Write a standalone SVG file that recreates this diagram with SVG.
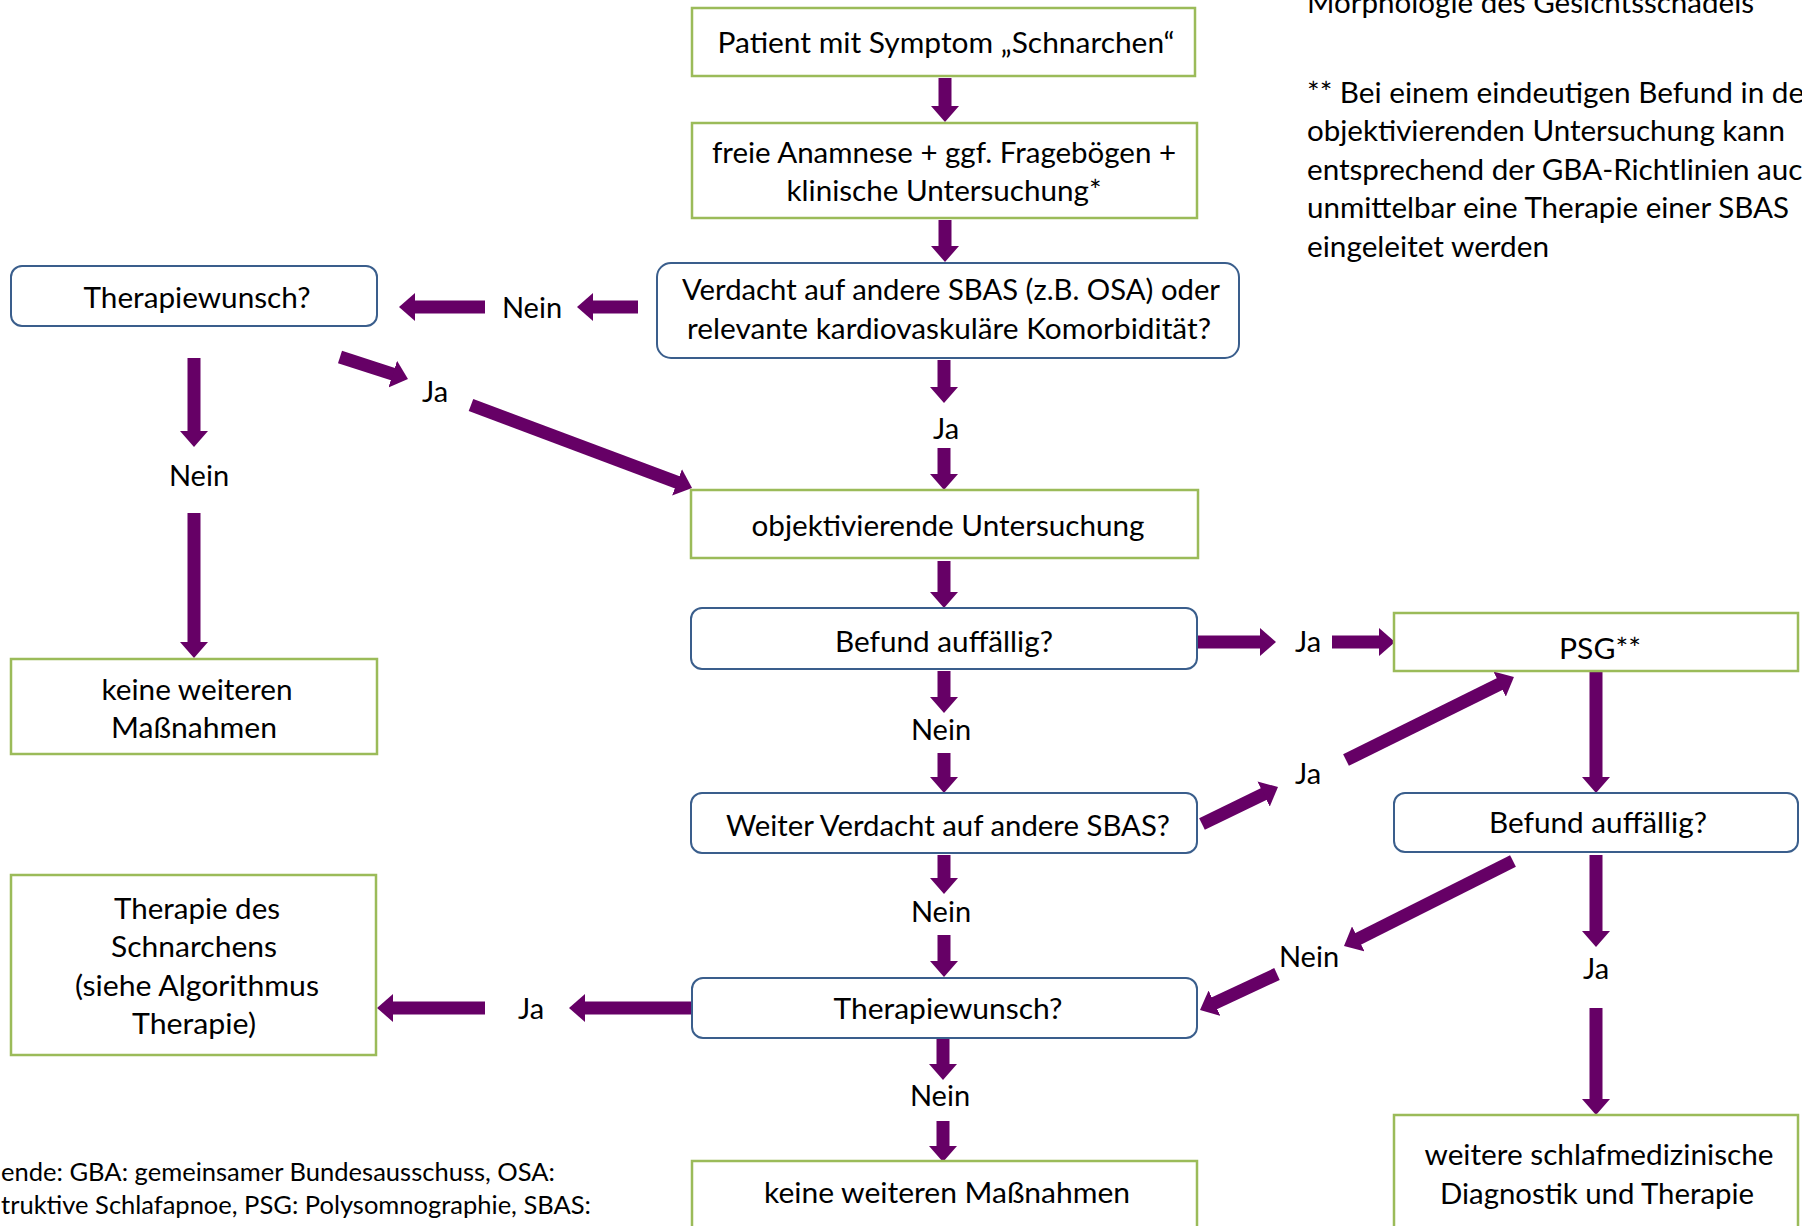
<svg xmlns="http://www.w3.org/2000/svg" width="1802" height="1226" viewBox="0 0 1802 1226">
<style>
.g{fill:#fff;stroke:#9BBB59;stroke-width:2.5}
.b{fill:#fff;stroke:#3A5E8C;stroke-width:2}
text{font-family:Lato,"Liberation Sans",sans-serif;font-size:29px;fill:#000}
.c{text-anchor:middle}
.s{font-size:25px}
.arr{stroke:#660066;stroke-width:13;fill:none;marker-end:url(#ah)}
</style>
<defs>
<marker id="ah" markerUnits="userSpaceOnUse" markerWidth="16" markerHeight="28" viewBox="0 0 16 28" refX="1" refY="14" orient="auto"><path d="M0,0 L16,14 L0,28 Z" fill="#660066"/></marker>
</defs>
<rect width="1802" height="1226" fill="#fff"/>

<g id="notes">
<text x="1307" y="13" textLength="447" lengthAdjust="spacingAndGlyphs">Morphologie des Gesichtsschädels</text>
<text x="1307" y="103" textLength="508" lengthAdjust="spacingAndGlyphs">** Bei einem eindeutigen Befund in der</text>
<text x="1307" y="141.4" textLength="478" lengthAdjust="spacingAndGlyphs">objektivierenden Untersuchung kann</text>
<text x="1307" y="179.8" textLength="512" lengthAdjust="spacingAndGlyphs">entsprechend der GBA-Richtlinien auch</text>
<text x="1307" y="218.2" textLength="482" lengthAdjust="spacingAndGlyphs">unmittelbar eine Therapie einer SBAS</text>
<text x="1307" y="256.6" textLength="242" lengthAdjust="spacingAndGlyphs">eingeleitet werden</text>
</g>
<g id="legend">
<text class="s" x="1" y="1181" textLength="554" lengthAdjust="spacingAndGlyphs">ende: GBA: gemeinsamer Bundesausschuss, OSA:</text>
<text class="s" x="1" y="1214" textLength="590" lengthAdjust="spacingAndGlyphs">truktive Schlafapnoe, PSG: Polysomnographie, SBAS:</text>
</g>

<g id="connectors">
<line class="arr" x1="945" y1="78" x2="945" y2="107"/>
<line class="arr" x1="945" y1="220" x2="945" y2="247"/>
<line class="arr" x1="638" y1="307" x2="592" y2="307"/>
<line class="arr" x1="485" y1="307" x2="414" y2="307"/>
<line class="arr" x1="340" y1="357" x2="393.7" y2="374.4"/>
<line class="arr" x1="471" y1="405" x2="678" y2="482.7"/>
<line class="arr" x1="194" y1="358" x2="194" y2="432"/>
<line class="arr" x1="194" y1="513" x2="194" y2="643"/>
<line class="arr" x1="944" y1="360" x2="944" y2="388"/>
<line class="arr" x1="944" y1="448" x2="944" y2="475"/>
<line class="arr" x1="944" y1="561" x2="944" y2="593"/>
<line class="arr" x1="944" y1="671" x2="944" y2="698"/>
<line class="arr" x1="944" y1="753" x2="944" y2="778"/>
<line class="arr" x1="944" y1="855" x2="944" y2="879"/>
<line class="arr" x1="944" y1="935" x2="944" y2="962"/>
<line class="arr" x1="943" y1="1039" x2="943" y2="1065"/>
<line class="arr" x1="943" y1="1121" x2="943" y2="1147"/>
<line class="arr" x1="692" y1="1008" x2="584" y2="1008"/>
<line class="arr" x1="485" y1="1008" x2="392" y2="1008"/>
<line class="arr" x1="1198" y1="642" x2="1261" y2="642"/>
<line class="arr" x1="1332" y1="642" x2="1380" y2="642"/>
<line class="arr" x1="1596" y1="672" x2="1596" y2="778"/>
<line class="arr" x1="1596" y1="855" x2="1596" y2="932"/>
<line class="arr" x1="1596" y1="1008" x2="1596" y2="1100"/>
<line class="arr" x1="1202" y1="824" x2="1264.5" y2="793.6"/>
<line class="arr" x1="1346" y1="760" x2="1500.5" y2="683.6"/>
<line class="arr" x1="1513" y1="861" x2="1357.4" y2="939.3"/>
<line class="arr" x1="1277" y1="974" x2="1213.6" y2="1003.6"/>
</g>

<g id="labels">
<text class="c" x="532" y="318">Nein</text>
<text class="c" x="435" y="402">Ja</text>
<text class="c" x="199" y="486">Nein</text>
<text class="c" x="946" y="439">Ja</text>
<text class="c" x="1308" y="652">Ja</text>
<text class="c" x="941" y="740">Nein</text>
<text class="c" x="1308" y="784">Ja</text>
<text class="c" x="1596" y="979">Ja</text>
<text class="c" x="1309" y="967">Nein</text>
<text class="c" x="941" y="922">Nein</text>
<text class="c" x="531" y="1019">Ja</text>
<text class="c" x="940" y="1106">Nein</text>
</g>

<g id="n1"><rect class="g" x="692" y="8" width="503" height="68"/>
<text class="c" x="946" y="53" textLength="457" lengthAdjust="spacingAndGlyphs">Patient mit Symptom „Schnarchen“</text></g>
<g id="n2"><rect class="g" x="692" y="123" width="505" height="95"/>
<text class="c" x="944" y="163" textLength="464" lengthAdjust="spacingAndGlyphs">freie Anamnese + ggf. Fragebögen +</text>
<text class="c" x="944" y="201" textLength="315" lengthAdjust="spacingAndGlyphs">klinische Untersuchung*</text></g>
<g id="n3"><rect class="b" x="657" y="263" width="582" height="95" rx="14"/>
<text class="c" x="951" y="300" textLength="538" lengthAdjust="spacingAndGlyphs">Verdacht auf andere SBAS (z.B. OSA) oder</text>
<text class="c" x="949" y="339" textLength="524" lengthAdjust="spacingAndGlyphs">relevante kardiovaskuläre Komorbidität?</text></g>
<g id="n4"><rect class="b" x="11" y="266" width="366" height="60" rx="11"/>
<text class="c" x="197" y="308" textLength="227" lengthAdjust="spacingAndGlyphs">Therapiewunsch?</text></g>
<g id="n5"><rect class="g" x="11" y="659" width="366" height="95"/>
<text class="c" x="197" y="700" textLength="191" lengthAdjust="spacingAndGlyphs">keine weiteren</text>
<text class="c" x="194" y="738" textLength="166" lengthAdjust="spacingAndGlyphs">Maßnahmen</text></g>
<g id="n6"><rect class="g" x="11" y="875" width="365" height="180"/>
<text class="c" x="197" y="919" textLength="166" lengthAdjust="spacingAndGlyphs">Therapie des</text>
<text class="c" x="194" y="957" textLength="166" lengthAdjust="spacingAndGlyphs">Schnarchens</text>
<text class="c" x="197" y="996" textLength="244" lengthAdjust="spacingAndGlyphs">(siehe Algorithmus</text>
<text class="c" x="194" y="1034" textLength="124" lengthAdjust="spacingAndGlyphs">Therapie)</text></g>
<g id="n7"><rect class="g" x="691" y="490" width="507" height="68"/>
<text class="c" x="948" y="536" textLength="393" lengthAdjust="spacingAndGlyphs">objektivierende Untersuchung</text></g>
<g id="n8"><rect class="b" x="691" y="608" width="506" height="61" rx="11"/>
<text class="c" x="944" y="652" textLength="218" lengthAdjust="spacingAndGlyphs">Befund auffällig?</text></g>
<g id="n9"><rect class="b" x="691" y="793" width="506" height="60" rx="11"/>
<text class="c" x="948" y="836" textLength="444" lengthAdjust="spacingAndGlyphs">Weiter Verdacht auf andere SBAS?</text></g>
<g id="n10"><rect class="b" x="692" y="978" width="505" height="60" rx="11"/>
<text class="c" x="948" y="1019" textLength="229" lengthAdjust="spacingAndGlyphs">Therapiewunsch?</text></g>
<g id="n11"><rect class="g" x="692" y="1161" width="505" height="90"/>
<text class="c" x="947" y="1203" textLength="366" lengthAdjust="spacingAndGlyphs">keine weiteren Maßnahmen</text></g>
<g id="n12"><rect class="g" x="1394" y="613" width="404" height="58"/>
<text class="c" x="1600" y="659" textLength="82" lengthAdjust="spacingAndGlyphs">PSG**</text></g>
<g id="n13"><rect class="b" x="1394" y="793" width="404" height="59" rx="11"/>
<text class="c" x="1598" y="833" textLength="218" lengthAdjust="spacingAndGlyphs">Befund auffällig?</text></g>
<g id="n14"><rect class="g" x="1394" y="1115" width="404" height="130"/>
<text class="c" x="1599" y="1165" textLength="349" lengthAdjust="spacingAndGlyphs">weitere schlafmedizinische</text>
<text class="c" x="1597" y="1204" textLength="314" lengthAdjust="spacingAndGlyphs">Diagnostik und Therapie</text></g>
</svg>
